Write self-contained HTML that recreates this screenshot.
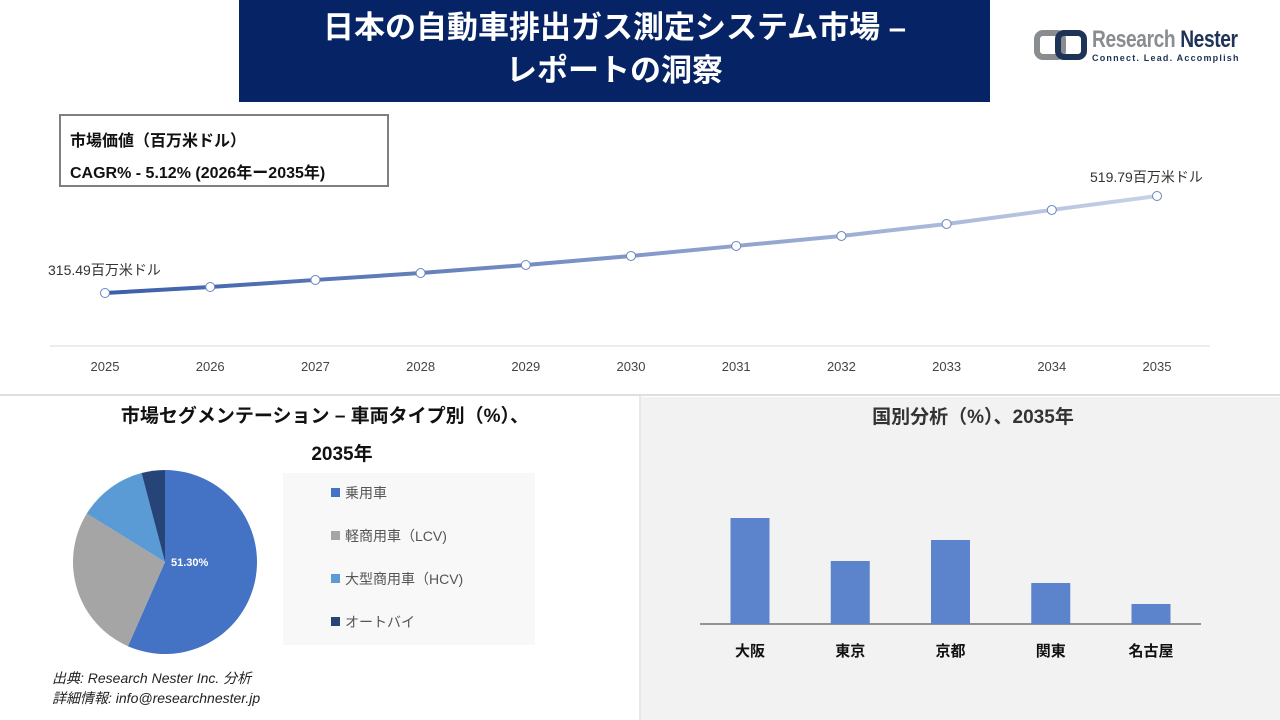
<!DOCTYPE html>
<html><head><meta charset="utf-8">
<style>
body{margin:0;width:1280px;height:720px;background:#fff;font-family:"Liberation Sans","Noto Sans CJK JP",sans-serif;overflow:hidden;position:relative}
.abs{position:absolute}
</style></head><body>
<div class="abs" style="left:239px;top:0;width:751px;height:102px;background:#062465;color:#fff;font-weight:bold;font-size:31px;text-align:center;line-height:43px;padding-top:6px;box-sizing:border-box">日本の自動車排出ガス測定システム市場 –<br>レポートの洞察</div>
<div class="abs" style="left:1034px;top:26px;width:220px;height:40px">
 <svg width="56" height="36" class="abs" style="left:0;top:2px"><rect x="3" y="5" width="26" height="24" rx="6" fill="none" stroke="#8a8d90" stroke-width="6"/><rect x="24" y="5" width="26" height="24" rx="6" fill="none" stroke="#1d3357" stroke-width="6"/></svg>
 <div class="abs" style="left:58px;top:0;font-size:24px;font-weight:bold;letter-spacing:-0.5px;white-space:nowrap;transform:scaleX(0.8);transform-origin:left"><span style="color:#8a8d90">Research</span> <span style="color:#1d3357">Nester</span></div>
 <div class="abs" style="left:58px;top:27px;font-size:9px;font-weight:bold;color:#1d3357;letter-spacing:1.2px;white-space:nowrap">Connect. Lead. Accomplish</div>
</div>
<div class="abs" style="left:59px;top:114px;width:330px;height:73px;border:2px solid #7f7f7f;box-sizing:border-box;font-weight:bold;font-size:16px;color:#111;padding:10px 0 0 9px;line-height:32px">市場価値（百万米ドル）<br>CAGR% - 5.12% (2026年ー2035年)</div>

<svg class="abs" style="left:0;top:0" width="1280" height="720" id="chart">
 <defs><linearGradient id="lg" x1="105" x2="1157" y1="0" y2="0" gradientUnits="userSpaceOnUse"><stop offset="0" stop-color="#3a5ea8"/><stop offset="1" stop-color="#c8d1e8"/></linearGradient></defs>
 <line x1="50" x2="1210" y1="346" y2="346" stroke="#d9d9d9"/>
 <line x1="0" x2="1280" y1="395" y2="395" stroke="#bfbfbf"/>
 <rect x="641" y="397" width="639" height="323" fill="#f2f2f2"/>
 <line x1="640" x2="640" y1="396" y2="720" stroke="#d0d0d0"/>
 <rect x="283" y="473" width="252" height="172" fill="#f8f8f8"/>
 <g id="lineG"></g><g id="pieG"></g><g id="barG"></g>
 <text x="325" y="422" font-size="19" font-weight="bold" text-anchor="middle" fill="#111">市場セグメンテーション – 車両タイプ別（%）、</text>
 <text x="342" y="460" font-size="19" font-weight="bold" text-anchor="middle" fill="#111">2035年</text>
 <text x="973" y="423" font-size="19" font-weight="bold" text-anchor="middle" fill="#333">国別分析（%）、2035年</text>
 <text x="52" y="683" font-size="14" font-style="italic" fill="#222">出典: Research Nester Inc. 分析</text>
 <text x="52" y="703" font-size="14" font-style="italic" fill="#222">詳細情報: info@researchnester.jp</text>
</svg>
<script>
const years=["2025","2026","2027","2028","2029","2030","2031","2032","2033","2034","2035"];
const marketValues=[315.49,328.1,343.0,357.5,374.5,393.5,414.6,435.6,460.9,490.4,519.79];
const pieLabels=["乗用車","軽商用車（LCV)","大型商用車（HCV)","オートバイ"];
const pieValues=[56.6,27.2,12.1,4.1];
const pieColors=["#4472c4","#a5a5a5","#5b9bd5","#264478"];
const cities=["大阪","東京","京都","関東","名古屋"];
const cityValues=[106,63,84,41,20];
const NS="http://www.w3.org/2000/svg";
function mk(t,a,p){const e=document.createElementNS(NS,t);for(const k in a)e.setAttribute(k,a[k]);p.appendChild(e);return e;}
// line chart
const lineG=document.getElementById('lineG');
const xL=i=>105+i*(1157-105)/(years.length-1);
const yL=v=>293-(v-315.49)*(293-196)/(519.79-315.49);
let d=marketValues.map((v,i)=>(i?'L':'M')+xL(i)+' '+yL(v)).join(' ');
const path=mk('path',{d:d,fill:'none',stroke:'url(#lg)','stroke-width':4},lineG);


marketValues.forEach((v,i)=>{
 const c=mk('circle',{cx:xL(i),cy:yL(v),r:4.5,fill:'#fff',stroke:'#6a86bf','stroke-width':1},lineG);
 
 
 const t=mk('text',{x:xL(i),y:371,'font-size':13,'text-anchor':'middle',fill:'#444'},lineG);t.textContent=years[i];
 
 
});
const l1=mk('text',{x:48,y:275,'font-size':14,fill:'#333'},lineG);l1.textContent=marketValues[0]+'百万米ドル';


const l2=mk('text',{x:1090,y:182,'font-size':14,fill:'#333'},lineG);l2.textContent=marketValues[marketValues.length-1]+'百万米ドル';


// pie
const pieG=document.getElementById('pieG');
const cx=165,cy=562,r=92;const tot=pieValues.reduce((a,b)=>a+b,0);let ang=0;
pieValues.forEach((v,i)=>{
 const a0=ang,a1=ang+v/tot*2*Math.PI;ang=a1;
 const p=(a)=>[cx+r*Math.sin(a),cy-r*Math.cos(a)];
 const [x0,y0]=p(a0),[x1,y1]=p(a1);
 const s=mk('path',{d:`M${cx} ${cy}L${x0} ${y0}A${r} ${r} 0 ${a1-a0>Math.PI?1:0} 1 ${x1} ${y1}Z`,fill:pieColors[i]},pieG);
 
 
 const ly=493+i*43;
 const sq=mk('rect',{x:331,y:ly-5,width:9,height:9,fill:pieColors[i]},pieG);
 
 
 const lt=mk('text',{x:345,y:ly+5,'font-size':14,fill:'#555'},pieG);lt.textContent=pieLabels[i];
 
 
});
const pl=mk('text',{x:171,y:566,'font-size':11,'font-weight':'bold',fill:'#fff'},pieG);pl.textContent='51.30%';


// bars
const barG=document.getElementById('barG');
const base=624;
const ax=mk('line',{x1:700,x2:1201,y1:base,y2:base,stroke:'#333','stroke-width':1},barG);


cities.forEach((c,i)=>{
 const x=750+i*100.25;const h=cityValues[i];
 const b=mk('rect',{x:x-19.5,y:base-h,width:39,height:h,fill:'#5b84cc'},barG);
 
 
 const t=mk('text',{x:x,y:656,'font-size':15,'font-weight':'bold','text-anchor':'middle',fill:'#111'},barG);t.textContent=c;
 
 
});
</script>
</body></html>
